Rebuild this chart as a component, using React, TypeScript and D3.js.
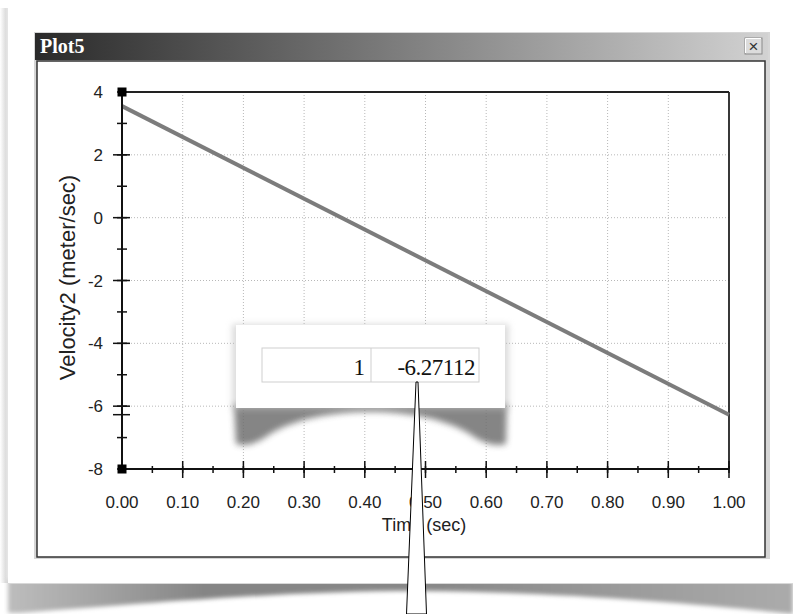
import React from 'react';
import * as d3 from 'd3';

// chart values
const xTicks = [0, 0.1, 0.2, 0.3, 0.4, 0.5, 0.6, 0.7, 0.8, 0.9, 1.0];
const yTicks = [-8, -6, -4, -2, 0, 2, 4];
const timeSec = [0, 1];
const velocity2 = [3.55, -6.27112];
const cursorRow = ['1', '-6.27112'];
const cursorValue = -6.27112;

const W = 793;
const H = 614;
const plot = { left: 122, right: 729, top: 92, bottom: 469 };

const App = () => {
  const x = d3.scaleLinear().domain([0, 1]).range([plot.left, plot.right]);
  const y = d3.scaleLinear().domain([-8, 4]).range([plot.bottom, plot.top]);

  const xMinor = x.ticks(20);
  const yMinor = y.ticks(12);

  const points = timeSec.map((t, i) => ({ t, v: velocity2[i] }));
  const line = d3.line<{ t: number; v: number }>()
    .x(d => x(d.t))
    .y(d => y(d.v));

  const sans = '"Liberation Sans", Arial, sans-serif';
  const serif = '"Liberation Serif", "Times New Roman", serif';

  return (
    <svg width={W} height={H} style={{ position: 'absolute', left: 0, top: 0 }}>
      <defs>
        <linearGradient id="titleGrad" x1="0" x2="1" y1="0" y2="0">
          <stop offset="0" stopColor="#2a2a2a" />
          <stop offset="1" stopColor="#d2d2d2" />
        </linearGradient>
        <linearGradient id="leftShade" x1="0" x2="1" y1="0" y2="0">
          <stop offset="0" stopColor="#ffffff" />
          <stop offset="0.6" stopColor="#dedede" />
          <stop offset="1" stopColor="#e8e8e8" />
        </linearGradient>
        <linearGradient id="bottomShade" x1="0" x2="1" y1="0" y2="0">
          <stop offset="0" stopColor="#bdbdbd" />
          <stop offset="0.25" stopColor="#858585" />
          <stop offset="0.55" stopColor="#888" />
          <stop offset="0.8" stopColor="#9c9c9c" />
          <stop offset="1" stopColor="#ababab" />
        </linearGradient>
        <filter id="blur3" x="-20%" y="-50%" width="140%" height="200%">
          <feGaussianBlur stdDeviation="3" />
        </filter>
        <filter id="blur2" x="-20%" y="-50%" width="140%" height="200%">
          <feGaussianBlur stdDeviation="2" />
        </filter>
      </defs>

      {/* page and its shadows */}
      <rect x={0} y={0} width={W} height={H} fill="#fff" />
      <rect x={0} y={8} width={9} height={575} fill="url(#leftShade)" />
      <path
        d="M8,580 L793,580 L793,614 C700,604 560,592 420,591 C300,591 200,599 20,613 L8,613 Z"
        fill="url(#bottomShade)"
        filter="url(#blur2)"
      />
      <rect x={8} y={0} width={W - 8} height={583} fill="#fff" />
      <line x1={8} x2={W} y1={583.5} y2={583.5} stroke="#d8d8d8" />

      {/* window */}
      <rect x={34} y={32} width={736} height={527} fill="#d6d6d6" />
      <rect x={35} y={33} width={733} height={27} fill="url(#titleGrad)" />
      <text x={40} y={53} fill="#fff" fontFamily={serif} fontWeight="bold" fontSize={20}>Plot5</text>
      <g>
        <rect x={745} y={38} width={17} height={16} fill="#dcdcdc" stroke="#8a8a8a" />
        <line x1={745.5} x2={761} y1={38.5} y2={38.5} stroke="#fff" />
        <line x1={745.5} x2={745.5} y1={38.5} y2={53} stroke="#fff" />
        <text x={753.5} y={52} textAnchor="middle" fontFamily={sans} fontSize={17} fill="#333">×</text>
      </g>
      <rect x={37} y={61} width={728} height={496} fill="#fff" stroke="#333" strokeWidth={1.5} />

      {/* gridlines */}
      <g stroke="#b8b8b8" strokeDasharray="1,2" strokeWidth={1}>
        {xTicks.slice(1, -1).map(t => (
          <line key={'gx' + t} x1={x(t)} x2={x(t)} y1={plot.top} y2={plot.bottom} />
        ))}
        {yTicks.slice(1, -1).map(t => (
          <line key={'gy' + t} x1={plot.left} x2={plot.right} y1={y(t)} y2={y(t)} />
        ))}
      </g>

      {/* frame top / right */}
      <line x1={plot.left} x2={plot.right} y1={plot.top} y2={plot.top} stroke="#222" strokeWidth={1.8} />
      <line x1={plot.right} x2={plot.right} y1={plot.top} y2={plot.bottom} stroke="#222" strokeWidth={1.8} />

      {/* data line */}
      <path d={line(points) ?? ''} fill="none" stroke="#7c7c7c" strokeWidth={4} />

      {/* axes */}
      <g stroke="#111">
        <line x1={plot.left} x2={plot.right} y1={plot.bottom} y2={plot.bottom} strokeWidth={2} />
        <line x1={plot.left} x2={plot.left} y1={plot.top} y2={plot.bottom} strokeWidth={2} />
        {xMinor.map(t => (
          <line key={'xm' + t} x1={x(t)} x2={x(t)} y1={plot.bottom - 3} y2={plot.bottom + 4} strokeWidth={1.5} />
        ))}
        {xTicks.slice(1).map(t => (
          <line key={'xM' + t} x1={x(t)} x2={x(t)} y1={plot.bottom - 8} y2={plot.bottom + 9} strokeWidth={1.5} />
        ))}
        {yMinor.map(t => (
          <line key={'ym' + t} x1={plot.left - 5} x2={plot.left + 5} y1={y(t)} y2={y(t)} strokeWidth={1.5} />
        ))}
        {yTicks.slice(1, -1).map(t => (
          <line key={'yM' + t} x1={plot.left - 9} x2={plot.left + 8} y1={y(t)} y2={y(t)} strokeWidth={1.5} />
        ))}
        <line x1={plot.left - 9} x2={plot.left + 8} y1={y(cursorValue)} y2={y(cursorValue)} strokeWidth={1.5} />
      </g>
      <rect x={plot.left - 4.5} y={plot.top - 4.5} width={9} height={9} fill="#000" />
      <rect x={plot.left - 4.5} y={plot.bottom - 4.5} width={9} height={9} fill="#000" />

      {/* tick labels */}
      <g fontFamily={sans} fontSize={17} fill="#222">
        {xTicks.map(t => (
          <text key={'xl' + t} x={x(t)} y={508} textAnchor="middle">{d3.format('.2f')(t)}</text>
        ))}
        {yTicks.map(t => (
          <text key={'yl' + t} x={103} y={y(t) + 6} textAnchor="end">{t}</text>
        ))}
      </g>

      {/* axis titles */}
      <text x={424} y={531} textAnchor="middle" fontFamily={sans} fontSize={18} fill="#222">Time (sec)</text>
      <text
        transform={`translate(75, ${(plot.top + plot.bottom) / 2 - 3}) rotate(-90)`}
        textAnchor="middle"
        fontFamily={sans}
        fontSize={22}
        fill="#222"
      >
        Velocity2 (meter/sec)
      </text>

      {/* cursor popup */}
      <path
        d="M234,404 L507,404 L506,444 C492,448 478,440 470,434 C420,404 320,404 270,434 C262,440 248,448 236,444 Z"
        fill="#707070"
        opacity={0.85}
        filter="url(#blur3)"
      />
      <rect x={232} y={324} width={277} height={86} fill="#bbb" opacity={0.5} filter="url(#blur3)" />
      <rect x={236} y={325} width={269} height={83} fill="#fff" />
      <g stroke="#cfcfcf" fill="none">
        <rect x={262} y={348} width={217} height={34} />
        <line x1={371} x2={371} y1={348} y2={382} />
      </g>
      <g fontFamily={serif} fontSize={23} fill="#111">
        <text x={365} y={375} textAnchor="end">{cursorRow[0]}</text>
        <text x={475} y={375} textAnchor="end" letterSpacing={-0.5}>{cursorRow[1]}</text>
      </g>

      {/* pointer */}
      <path d="M416,382 L418,382 L426.5,614 L406.5,614 Z" fill="#fff" stroke="#000" strokeWidth={1} />
    </svg>
  );
};

export default App;
